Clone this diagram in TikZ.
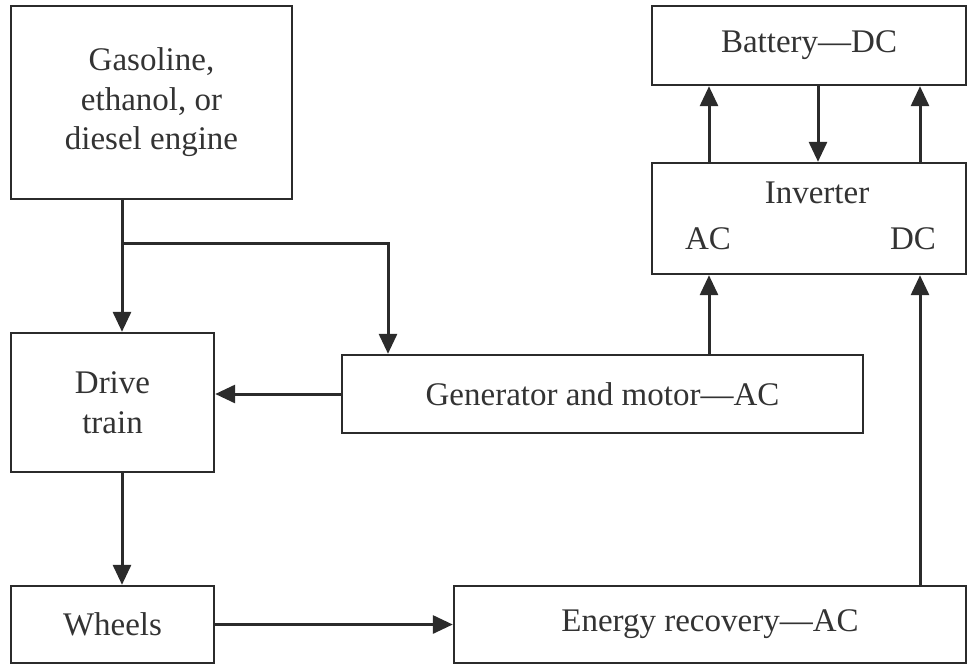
\documentclass[tikz,border=0pt]{standalone}
\usepackage{fontspec}
\setmainfont{Liberation Serif}
\usepackage{tikz}
\usetikzlibrary{arrows.meta,positioning}
\definecolor{hvLine}{HTML}{2B2B2B}
\definecolor{hvText}{HTML}{333333}

\begin{document}
\begin{tikzpicture}[
  x=1pt, y=-1pt,
  box/.style={draw=hvLine, line width=2.4pt, fill=white, align=center, inner sep=0pt, text=hvText, font=\fontsize{33}{39.5}\selectfont},
  lbl/.style={inner sep=0pt, text=hvText, font=\fontsize{33}{39.5}\selectfont, anchor=base},
  arr/.style={-{Triangle[length=20pt, width=18pt]}, line width=3pt, color=hvLine}
]
  \useasboundingbox (0,0) rectangle (969,665);

  \node[box, minimum width=281pt, minimum height=193pt] (engine) at (151.5,102.5) {Gasoline,\\ethanol, or\\diesel engine};
  \node[box, minimum width=314pt, minimum height=79pt] (battery) at (809,45.5) {Battery---DC};
  \node[box, minimum width=314pt, minimum height=111pt] (inv) at (809,218.5) {};
  \node[box, minimum width=203pt, minimum height=139pt] (drive) at (112.5,402.5) {Drive\\train};
  \node[box, minimum width=521pt, minimum height=78pt] (gen) at (602.5,394) {Generator and motor---AC};
  \node[box, minimum width=203pt, minimum height=77pt] (wheels) at (112.5,624.5) {Wheels};
  \node[box, minimum width=512pt, minimum height=77pt] (energy) at (710,624.5) {Energy recovery---AC};

  % labels inside the inverter
  \node[lbl] (invtxt) at (817,203) {Inverter};
  \node[lbl] (actxt) at (708,249) {AC};
  \node[lbl] (dctxt) at (913,249) {DC};

  % columns of the vertical connectors
  \coordinate (colA) at (122,0);
  \coordinate (colB) at (388,0);
  \coordinate (colC) at (709,0);
  \coordinate (colD) at (818,0);
  \coordinate (colE) at (920,0);
  \coordinate (split) at (122,243);

  \draw[arr] (engine.south -| colA) -- (drive.north -| colA);
  \draw[arr] (split) -| (gen.north -| colB);
  \draw[arr] (gen.west) -- (drive.east |- gen.west);
  \draw[arr] (drive.south -| colA) -- (wheels.north -| colA);
  \draw[arr] (wheels.east) -- (energy.west);

  \draw[arr] (gen.north -| colC) -- (inv.south -| colC);
  \draw[arr] (energy.north -| colE) -- (inv.south -| colE);
  \draw[arr] (inv.north -| colC) -- (battery.south -| colC);
  \draw[arr] (battery.south -| colD) -- (inv.north -| colD);
  \draw[arr] (inv.north -| colE) -- (battery.south -| colE);
\end{tikzpicture}
\end{document}
